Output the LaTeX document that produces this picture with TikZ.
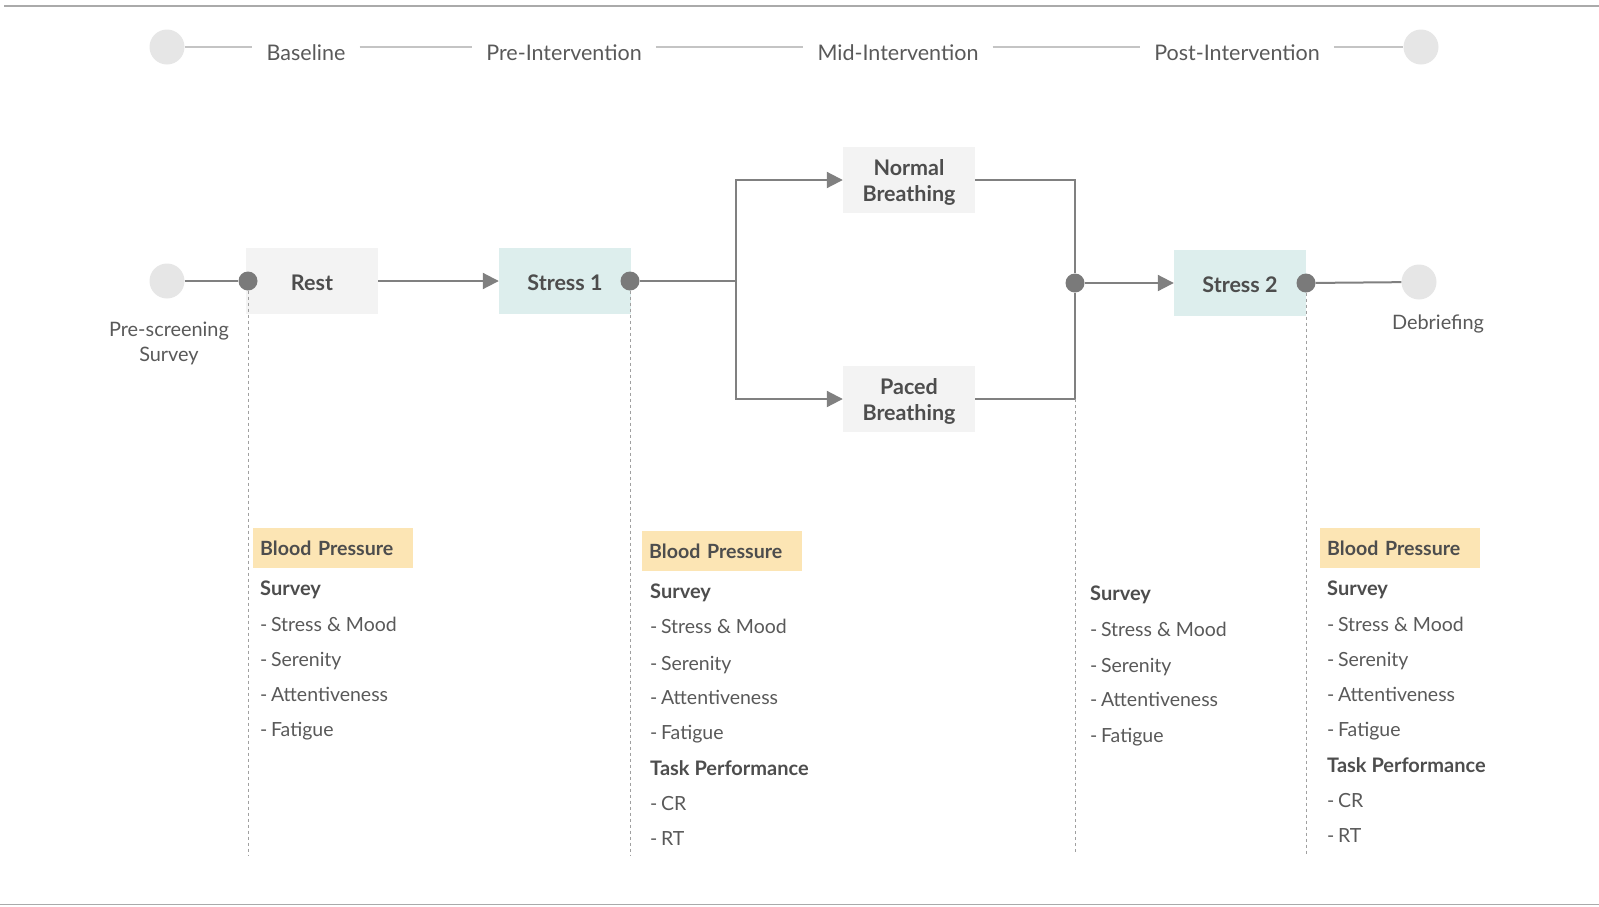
\documentclass[tikz,border=0pt]{standalone}
\usepackage{fontspec}
\setmainfont{Lato}
\usetikzlibrary{arrows.meta}
\definecolor{txt}{HTML}{595959}
\definecolor{btxt}{HTML}{4D4D4D}
\definecolor{lc}{HTML}{808080}
\definecolor{lightc}{HTML}{E6E6E6}
\definecolor{tlc}{HTML}{C4C4C4}
\definecolor{boxg}{HTML}{F3F3F3}
\definecolor{boxt}{HTML}{DDEEED}
\definecolor{boxy}{HTML}{FCE5B4}
\definecolor{dotc}{HTML}{7A7A7A}
\definecolor{rulec}{HTML}{AAAAAA}
\definecolor{dashc}{HTML}{A0A0A0}
\newcommand\lowr[1]{\raisebox{-2.2pt}[\height][\depth]{#1}}
\newcommand\dsh{-\hspace{3.6pt}}
\begin{document}
\begin{tikzpicture}[x=1pt,y=-1pt,
  phase/.style={font=\fontsize{21.5}{25}\selectfont, text=txt, inner xsep=14pt, inner ysep=0pt, anchor=base},
  endc/.style={circle, fill=lightc, minimum size=35pt, inner sep=0pt},
  stage/.style={fill=boxg, minimum width=132pt, minimum height=66pt, font=\bfseries\fontsize{21.5}{25.5}\selectfont, text=btxt, align=center, inner sep=0pt},
  dotn/.style={circle, fill=dotc, minimum size=19pt, inner sep=0pt},
  conn/.style={draw=lc, line width=2pt},
  arr/.style={conn, -{Triangle[length=16pt,width=16pt]}},
  tline/.style={draw=tlc, line width=1.5pt},
  vdash/.style={draw=dashc, line width=0.9pt, dash pattern=on 3pt off 3pt},
  lab/.style={font=\fontsize{19.9}{25}\selectfont, text=txt, align=center, inner sep=0pt},
  bp/.style={fill=boxy, anchor=north west, text width=146pt, minimum height=40pt, inner xsep=7pt, inner ysep=0pt, align=left, font=\bfseries\fontsize{19.6}{23}\selectfont, text=btxt},
  itm/.style={anchor=base west, inner sep=0pt, font=\fontsize{19.5}{23}\selectfont, text=txt},
  hd/.style={itm, font=\bfseries\fontsize{20}{23}\selectfont, text=btxt}]
\useasboundingbox (0,0) rectangle (1599,906);
% rules
\draw[draw=rulec, line width=1.2pt] (4,6) -- (1599,6);
\draw[draw=rulec, line width=1.2pt] (0,904.5) -- (1599,904.5);

% top timeline
\node[endc] (tL) at (167,47) {};
\node[endc] (tR) at (1421,47) {};
\node[phase] (ph1) at (306,60) {Baseline};
\node[phase] (ph2) at (564,60) {Pre-Intervention};
\node[phase] (ph3) at (898,60) {Mid-Intervention};
\node[phase] (ph4) at (1237,60) {Post-Intervention};
\draw[tline] (tL) -- (tL -| ph1.west);
\draw[tline] (tL -| ph1.east) -- (tL -| ph2.west);
\draw[tline] (tL -| ph2.east) -- (tL -| ph3.west);
\draw[tline] (tL -| ph3.east) -- (tL -| ph4.west);
\draw[tline] (tL -| ph4.east) -- (tR);

% main row
\node[endc] (pre) at (167,281) {};
\node[stage] (rest) at (312,281) {\lowr{Rest}};
\node[stage, fill=boxt] (s1) at (565,281) {\lowr{Stress 1}};
\node[stage] (nb) at (909,180) {\lowr{Normal}\\\lowr{Breathing}};
\node[stage] (pb) at (909,399) {\lowr{Paced}\\\lowr{Breathing}};
\node[stage, fill=boxt] (s2) at (1240,283) {\lowr{Stress 2}};
\node[endc] (deb) at (1419,282) {};
\coordinate (jn) at (736,281);
\node[dotn] (d1) at (248,281) {};
\node[dotn] (d2) at (630,281) {};
\node[dotn] (d3) at (1075,283) {};
\node[dotn] (d4) at (1306,283) {};

\node[lab] (prel) at (169,343.5) {Pre-screening\\Survey};
\node[lab, anchor=base] (debl) at (1438,329.5) {Debriefing};

\draw[conn] (pre) -- (d1);
\draw[arr] (rest) -- (s1);
\draw[conn] (d2) -- (jn);
\draw[arr] (jn) |- (nb);
\draw[arr] (jn) |- (pb);
\draw[conn] (nb) -| (d3);
\draw[conn] (pb) -| (d3);
\draw[arr] (d3) -- (s2);
\draw[conn] (d4) -- (deb);

% dashed guides
\coordinate (e1) at (248,855);
\coordinate (e2) at (630,855);
\coordinate (e3) at (1075,852);
\coordinate (e4) at (1306,855);
\draw[vdash] (d1) -- (e1);
\draw[vdash] (d2) -- (e2);
\draw[vdash] (pb -| d3) -- (e3);
\draw[vdash] (d4) -- (e4);

% block 1
\node[bp] (bp1) at (253,528) {Blood Pressure};
\node[hd] (sv1) at (260,595) {Survey};
\node[itm] (a1) at (260,631) {\dsh Stress \& Mood};
\node[itm] (b1) at (260,666) {\dsh Serenity};
\node[itm] (c1) at (260,701.5) {\dsh Attentiveness};
\node[itm] (f1) at (260,736) {\dsh Fatigue};

% block 2
\node[bp] (bp2) at (642,531) {Blood Pressure};
\node[hd] (sv2) at (650,598.5) {Survey};
\node[itm] (a2) at (650,633) {\dsh Stress \& Mood};
\node[itm] (b2) at (650,670) {\dsh Serenity};
\node[itm] (c2) at (650,704.5) {\dsh Attentiveness};
\node[itm] (f2) at (650,739) {\dsh Fatigue};
\node[hd] (tp2) at (650,775) {Task Performance};
\node[itm] (cr2) at (650,810.5) {\dsh CR};
\node[itm] (rt2) at (650,845) {\dsh RT};

% block 3
\node[hd] (sv3) at (1090,600.5) {Survey};
\node[itm] (a3) at (1090,636) {\dsh Stress \& Mood};
\node[itm] (b3) at (1090,672) {\dsh Serenity};
\node[itm] (c3) at (1090,706.5) {\dsh Attentiveness};
\node[itm] (f3) at (1090,742) {\dsh Fatigue};

% block 4
\node[bp] (bp4) at (1320,528) {Blood Pressure};
\node[hd] (sv4) at (1327,595) {Survey};
\node[itm] (a4) at (1327,631) {\dsh Stress \& Mood};
\node[itm] (b4) at (1327,666) {\dsh Serenity};
\node[itm] (c4) at (1327,701.5) {\dsh Attentiveness};
\node[itm] (f4) at (1327,736) {\dsh Fatigue};
\node[hd] (tp4) at (1327,772) {Task Performance};
\node[itm] (cr4) at (1327,807.5) {\dsh CR};
\node[itm] (rt4) at (1327,842) {\dsh RT};
\end{tikzpicture}
\end{document}
